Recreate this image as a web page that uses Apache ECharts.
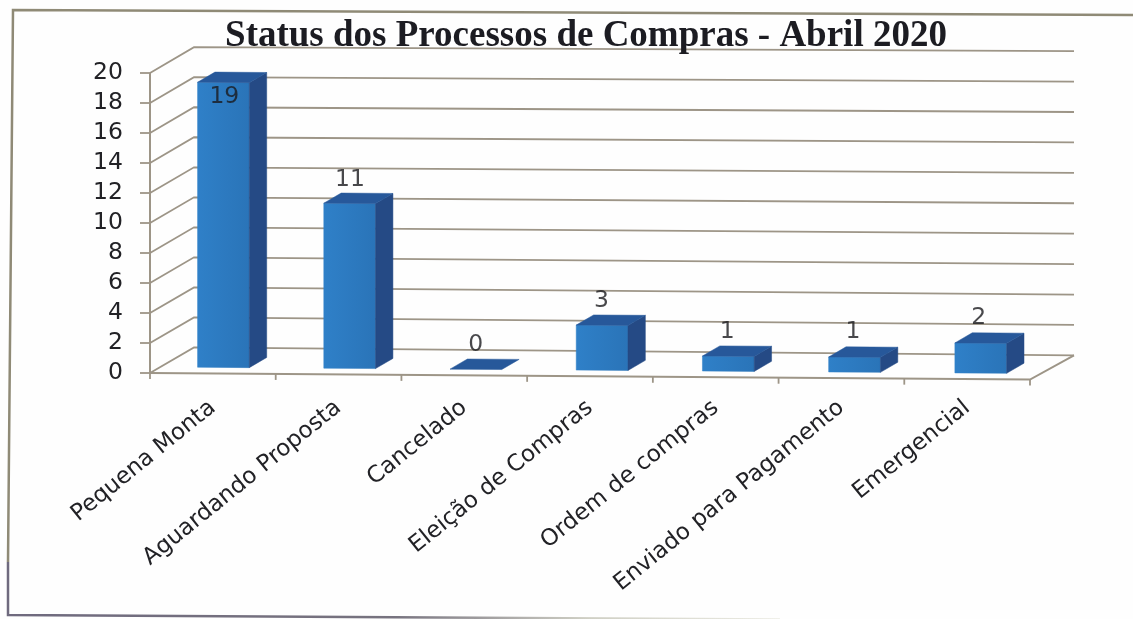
<!DOCTYPE html>
<html><head><meta charset="utf-8">
<style>html,body{margin:0;padding:0;background:#fefefe}#c{width:1133px;height:619px}</style>
<script src="https://cdn.jsdelivr.net/npm/echarts@6/dist/echarts.min.js"></script></head>
<body><div id="c"></div>
<script>
const categories = ['Pequena Monta','Aguardando Proposta','Cancelado','Eleição de Compras','Ordem de compras','Enviado para Pagamento','Emergencial'];
const values = [19,11,0,3,1,1,2];
const titleText = 'Status dos Processos de Compras - Abril 2020';
const yTicks = [0,2,4,6,8,10,12,14,16,18,20];

const chart = echarts.init(document.getElementById('c'), null, {renderer:'canvas'});
const LINE = '#9d9587';
const DEPTH = [44,-26];
function wall(api, cat, v, d){
  const w = api.size([1,0])[0];
  const p = api.coord([0, v]);
  const x = p[0] + cat*w + DEPTH[0]*d;
  const k = d > .5 ? (4 + (20-v)*0.2)/884 : 0.0075;
  return [x, p[1] + DEPTH[1]*d + (x-150)*k];
}
function frameItem(params, api){
  const kids = [];
  const L = -0.5, R = categories.length - 0.5;
  const ln = (pts, w) => ({type:'polyline', shape:{points:pts}, style:{fill:'none', stroke:LINE, lineWidth:w||1.8}, silent:true});
  yTicks.forEach(v=>{
    const a = wall(api,L,v,0), b = wall(api,L,v,1), c = wall(api,R,v,1);
    kids.push(ln([a,b,c]));
    kids.push(ln([[a[0]-10,a[1]],a]));
  });
  kids.push(ln([wall(api,L,0,0), wall(api,L,20,0)],2));
  kids.push(ln([wall(api,L,0,0), wall(api,R,0,0), wall(api,R,0,1)],2));
  for(let i=0;i<=categories.length;i++){
    const a = wall(api,i-0.5,0,0);
    kids.push(ln([a,[a[0],a[1]+6]]));
  }
  return {type:'group', children:kids};
}
function barItem(params, api){
  const cat = api.value(0), v = api.value(1);
  const half = api.size([1,0])[0]*0.205;
  const base = api.coord([cat,0]), top = api.coord([cat,v]);
  const P = (sx, y, d) => {
    let x = base[0] + sx*half;
    x += (x-150)*0.004 + 44*d;
    return [x, y - 26*d + (x-150)*0.0075];
  };
  const d0 = 0.235, d1 = 0.63;
  const by = base[1], ty = top[1];
  const poly = (pts, c) => ({type:'polygon', shape:{points:pts}, style:{fill:c, stroke:c, lineWidth:0.5}});
  const kids = [];
  if(v>0){
    kids.push(poly([P(-1,by,d0),P(1,by,d0),P(1,ty,d0),P(-1,ty,d0)],
      {type:'linear',x:0,y:0,x2:1,y2:0,colorStops:[{offset:0,color:'#2f80c8'},{offset:1,color:'#2a74b8'}]}));
    kids.push(poly([P(1,by,d0),P(1,by,d1),P(1,ty,d1),P(1,ty,d0)],'#254a85'));
  }
  kids.push(poly([P(-1,ty,d0),P(1,ty,d0),P(1,ty,d1),P(-1,ty,d1)],'#27589a'));
  return {type:'group', children:kids};
}
chart.setOption({
  animation:false,
  backgroundColor:'#fefefe',
  title:{text:titleText, left:581, top:13, textAlign:'center',
    textStyle:{fontFamily:'Liberation Serif', fontWeight:'bold', fontSize:37, color:'#1c1c22'}},
  grid:{left:150, right:103, top:73, bottom:246},
  xAxis:{type:'category', data:categories, axisLine:{show:false}, axisTick:{show:false}, splitLine:{show:false},
    axisLabel:{rotate:39, interval:0, margin:32, fontFamily:'DejaVu Sans', fontSize:23, color:'#222226'}},
  yAxis:{type:'value', min:0, max:20, interval:2, axisLine:{show:false}, axisTick:{show:false}, splitLine:{show:false},
    axisLabel:{margin:27, fontFamily:'DejaVu Sans', fontSize:23.5, color:'#222226'}},
  graphic:[
    {type:'polyline', silent:true, shape:{points:[[8,562],[13,10],[1133,15]]}, style:{fill:'none', stroke:'#8f8a76', lineWidth:2.5}},
    {type:'polyline', silent:true, shape:{points:[[8,562],[8,615],[780,619.5]]}, style:{fill:'none', lineWidth:2.5,
      stroke:{type:'linear',x:8,y:0,x2:780,y2:0,global:true,colorStops:[{offset:0,color:'#6f6a7e'},{offset:0.5,color:'#77737f'},{offset:0.75,color:'#cfcfc4'},{offset:1,color:'#ecece4'}]}}}
  ],
  series:[
    {type:'custom', data:[[0,0]], renderItem:frameItem, silent:true, z:1, encode:{x:0,y:1}},
    {type:'custom', data:values.map((v,i)=>[i,v]), renderItem:barItem, silent:true, z:2, encode:{x:0,y:1}},
    {type:'scatter', symbolSize:0, z:3, silent:true,
     data:values.map((v,i)=>({value:[i,v],label:{offset:[11.5, i===0 ? 9 : -29+i*0.6]}})),
     label:{show:true, position:'inside', formatter:p=>p.value[1], fontFamily:'DejaVu Sans', fontSize:23.5, color:'#1a1a1e'}}
  ]
});
</script></body></html>
